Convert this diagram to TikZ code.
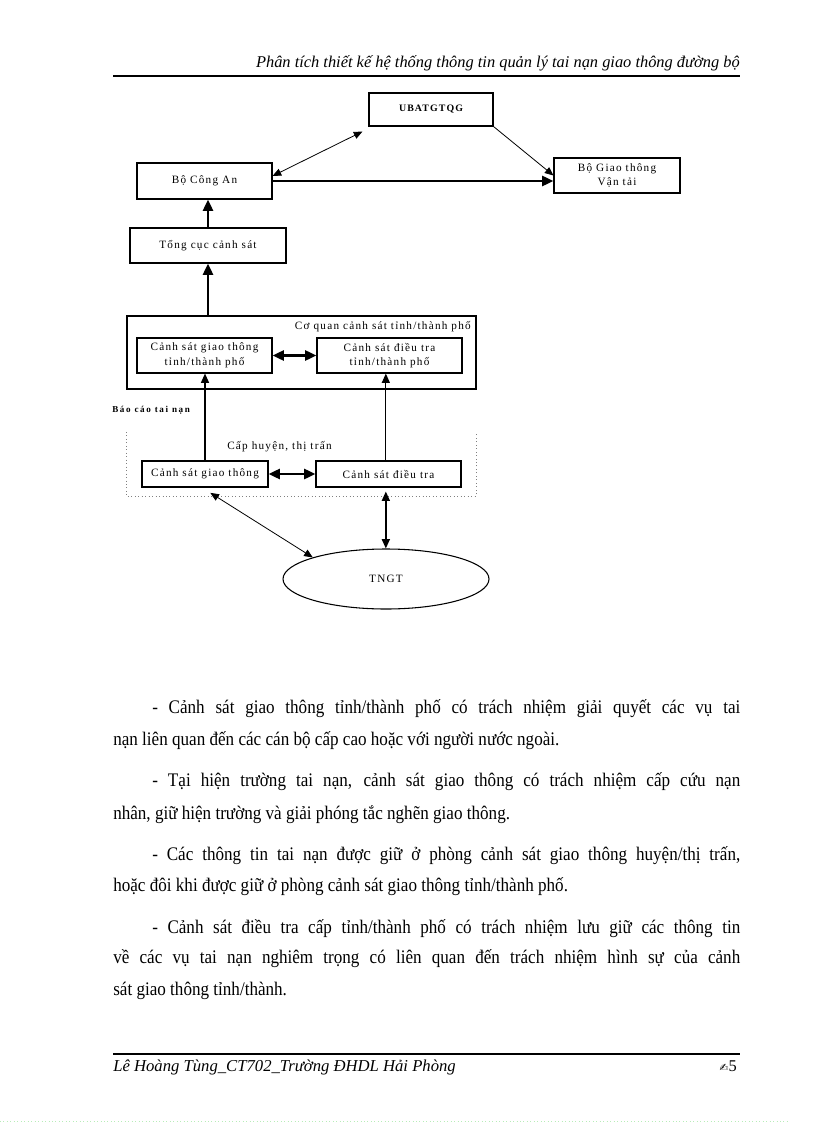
\documentclass[tikz,border=0pt]{standalone}
\usepackage{fontspec}
\setmainfont{Liberation Serif}
\newfontfamily\dg[LetterSpace=11]{Liberation Serif}
\newfontfamily\dgs[LetterSpace=18]{Liberation Serif}
\newfontfamily\bodyf[FakeStretch=0.89]{Liberation Serif}
\newfontfamily\symf{DejaVu Sans}
\usetikzlibrary{arrows.meta,shapes.geometric}
\begin{document}
\begin{tikzpicture}[x=0.75pt,y=-0.75pt,
  box/.style={draw,line width=0.8pt,inner sep=0pt,align=center,font=\dg\fontsize{8.4}{11}\selectfont},
  lbl/.style={inner sep=0pt,font=\dg\fontsize{8.4}{11}\selectfont},
  body/.style={inner sep=0pt,anchor=base west,font=\bodyf\fontsize{14.4}{17}\selectfont},
  thk/.style={line width=1.9pt,-{Triangle[length=8.5pt,width=7.5pt]}},
  thkb/.style={line width=1.9pt,{Triangle[length=8.5pt,width=7.5pt]}-{Triangle[length=8.5pt,width=7.5pt]}},
  med/.style={line width=1.1pt,-{Triangle[length=7pt,width=6pt]}},
  medb/.style={line width=1.1pt,{Triangle[length=7pt,width=6pt]}-{Triangle[length=7pt,width=6pt]}},
  thn/.style={line width=0.6pt,-{Triangle[length=6.5pt,width=5.5pt]}},
  thnb/.style={line width=0.6pt,{Triangle[length=6.5pt,width=5.5pt]}-{Triangle[length=6.5pt,width=5.5pt]}}]
\useasboundingbox (0,0) rectangle (816,1123);
\fill[white] (0,0) rectangle (816,1123);

% header
\node[inner sep=0pt,anchor=base east,font=\itshape\fontsize{12.3}{14}\selectfont] (hdr) at (740,68) {Phân tích thiết kế hệ thống thông tin quản lý tai nạn giao thông đường bộ};
\draw[line width=0.8pt] (113,76) -- (740,76);

% diagram nodes
\node[box,minimum width=93pt,minimum height=24.75pt,font=\dg\bfseries\fontsize{7.4}{10}\selectfont] (uba) at (431,109.5) {UBATGTQG};
\node[box,minimum width=101.25pt,minimum height=27pt] (bca) at (204.5,181) {Bộ Công An};
\node[box,minimum width=94.5pt,minimum height=26.25pt] (bgt) at (617,175.5) {Bộ Giao thông\\Vận tải};
\node[box,minimum width=117pt,minimum height=26.25pt] (tcs) at (208,245.5) {Tổng cục cảnh sát};
\node[box,minimum width=261.75pt,minimum height=54.75pt] (cq) at (301.5,352.5) {};
\node[lbl,anchor=east] (cqlbl) at (471,327) {Cơ quan cảnh sát tỉnh/thành phố};
\node[box,minimum width=101.25pt,minimum height=26.25pt] (csgtt) at (204.5,355.5) {Cảnh sát giao thông\\tỉnh/thành phố};
\node[box,minimum width=108.75pt,minimum height=26.25pt] (csdtt) at (389.5,355.5) {Cảnh sát điều tra\\tỉnh/thành phố};
\node[inner sep=0pt,anchor=west,font=\dgs\bfseries\fontsize{6.8}{8}\selectfont] (bc) at (112,410) {Báo cáo tai nạn};
\draw[line width=0.6pt,dotted,gray] (126,432) -- (126,496) -- (476,496) -- (476,432);
\node[lbl,anchor=west] (cap) at (227,447) {Cấp huyện, thị trấn};
\node[box,minimum width=94.5pt,minimum height=19.5pt] (csgth) at (205,474) {Cảnh sát giao thông};
\node[box,minimum width=108.75pt,minimum height=19.5pt] (csdth) at (388.5,474) {Cảnh sát điều tra};
\node[draw,line width=0.8pt,ellipse,minimum width=154.5pt,minimum height=45pt,inner sep=0pt,font=\dg\fontsize{8.4}{11}\selectfont] (tngt) at (386,579) {TNGT};

% connectors
\draw[thk] (tcs.north) -- (tcs.north |- bca.south);
\draw[thk] (tcs.south |- cq.north) -- (tcs.south);
\draw[thk] (bca.east) -- (bca.east -| bgt.west);
\draw[thnb] ([yshift=3.75pt]bca.east) -- ([xshift=-4.5pt,yshift=-3.75pt]uba.south west);
\draw[thn] (uba.south east) -- (bgt.west);
\draw[thkb] (csgtt) -- (csdtt);
\draw[med] (csgth.north) -- (csgth.north |- csgtt.south);
\draw[med,line width=0.8pt] ([xshift=-2pt]csdth.north) -- ([xshift=-2pt]csdth.north |- csdtt.south);
\draw[thkb] (csgth) -- (csdth);
\draw[thnb] ([xshift=4pt,yshift=-4pt]csgth.south) -- (tngt.north west);
\draw[medb] ([xshift=-2pt,yshift=-3pt]csdth.south) -- ([xshift=-2pt]csdth.south |- tngt.north);

% body text
\node[body] (l1) at (152,713) {\makebox[441pt][s]{- Cảnh sát giao thông tỉnh/thành phố có trách nhiệm giải quyết các vụ tai}};
\node[body] (l2) at (113,745) {nạn liên quan đến các cán bộ cấp cao hoặc với người nước ngoài.};
\node[body] (l3) at (152,786) {\makebox[441pt][s]{- Tại hiện trường tai nạn, cảnh sát giao thông có trách nhiệm cấp cứu nạn}};
\node[body] (l4) at (113,819) {nhân, giữ hiện trường và giải phóng tắc nghẽn giao thông.};
\node[body] (l5) at (152,860) {\makebox[441pt][s]{- Các thông tin tai nạn được giữ ở phòng cảnh sát giao thông huyện/thị trấn,}};
\node[body] (l6) at (113,891) {hoặc đôi khi được giữ ở phòng cảnh sát giao thông tỉnh/thành phố.};
\node[body] (l7) at (152,933) {\makebox[441pt][s]{- Cảnh sát điều tra cấp tỉnh/thành phố có trách nhiệm lưu giữ các thông tin}};
\node[body] (l8) at (113,963) {\makebox[470.25pt][s]{về các vụ tai nạn nghiêm trọng có liên quan đến trách nhiệm hình sự của cảnh}};
\node[body] (l9) at (113,995) {sát giao thông tỉnh/thành.};

% footer
\draw[line width=0.8pt] (113,1054) -- (740,1054);
\node[inner sep=0pt,anchor=base west,font=\itshape\fontsize{12.5}{14}\selectfont] (ftr) at (113,1071) {Lê Hoàng Tùng\_CT702\_Trường ĐHDL Hải Phòng};
\node[inner sep=0pt,anchor=base east,font=\fontsize{12.3}{14}\selectfont] (pg) at (737,1071) {{\symf\fontsize{8}{10}\selectfont ✍}5};
\draw[green!60!gray!35,dotted,line width=0.6pt] (0,1121) -- (790,1121);
\end{tikzpicture}
\end{document}
